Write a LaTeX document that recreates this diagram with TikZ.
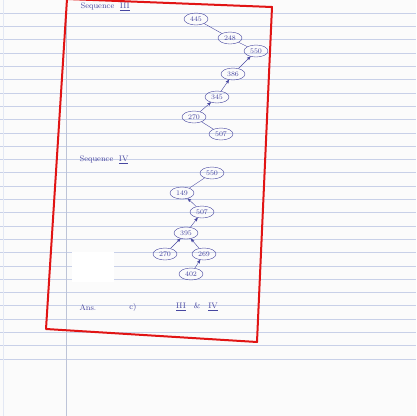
\documentclass[tikz,border=0pt]{standalone}
\usepackage{tikz}
\usetikzlibrary{arrows, shapes.geometric}
\definecolor{ink}{RGB}{70,70,160}
\definecolor{rule}{RGB}{200,208,232}
\definecolor{marker}{RGB}{225,20,20}

\begin{document}
\begin{tikzpicture}[x=1pt,y=-1pt,>=stealth', thin, ink,
        key/.style={draw=ink,ellipse,inner sep=0pt,minimum width=24pt,minimum height=12pt,font=\fontsize{7}{7}\selectfont},
        note/.style={font=\fontsize{8}{8}\selectfont}]

        % paper
        \useasboundingbox (0,0) rectangle (416,416);
        \fill[white!97!gray] (0,0) rectangle (416,416);
        \foreach \k in {0,...,26}
          \draw[rule] (0,{13+13.3*\k}) -- (416,{13+13.3*\k});
        \draw[rule!85!gray] (66,0) -- (66,416);
        \draw[rule!50!white] (3,0) -- (3,416);

        % sequence III
        \node at (77,7) [note,anchor=west] (t3) {Sequence \ \underline{III}};
        \node at (196,19) [key] (a445) {445};
        \node at (230,38) [key] (a248) {248};
        \node at (256,51) [key] (a550) {550};
        \node at (233,74) [key] (a386) {386};
        \node at (217,97) [key] (a345) {345};
        \node at (194,117) [key] (a270) {270};
        \node at (221,134) [key] (a507) {507};

        \path (a445) edge (a248)
              (a248) edge (a550)
              (a386) edge[->] (a550)
              (a345) edge[->] (a386)
              (a270) edge[->] (a345)
              (a270) edge (a507);

        % sequence IV
        \node at (76,160) [note,anchor=west] (t4) {Sequence \ \underline{IV}};
        \node at (212,173) [key] (b550) {550};
        \node at (182,193) [key] (b149) {149};
        \node at (202,212) [key] (b507) {507};
        \node at (186,233) [key] (b395) {395};
        \node at (165,254) [key] (b270) {270};
        \node at (204,254) [key] (b269) {269};
        \node at (191,274) [key] (b402) {402};

        \path (b550) edge (b149)
              (b507) edge[->] (b149)
              (b395) edge[->] (b507)
              (b270) edge[->] (b395)
              (b269) edge[->] (b395)
              (b402) edge[->] (b269);

        % answer
        \node at (76,308) [note,anchor=west] (ans) {Ans.};
        \node at (133,307) [note] (opt) {c)};
        \node at (197,307) [note] (res) {\underline{III}\quad\&\quad\underline{IV}};

        % cover patch and red frame
        \fill[white] (72,252) rectangle (114,282);
        \draw[marker, line width=2pt, line join=round] (67,-1) -- (272,7) -- (257,342) -- (46,329) -- cycle;

      \end{tikzpicture}
\end{document}
